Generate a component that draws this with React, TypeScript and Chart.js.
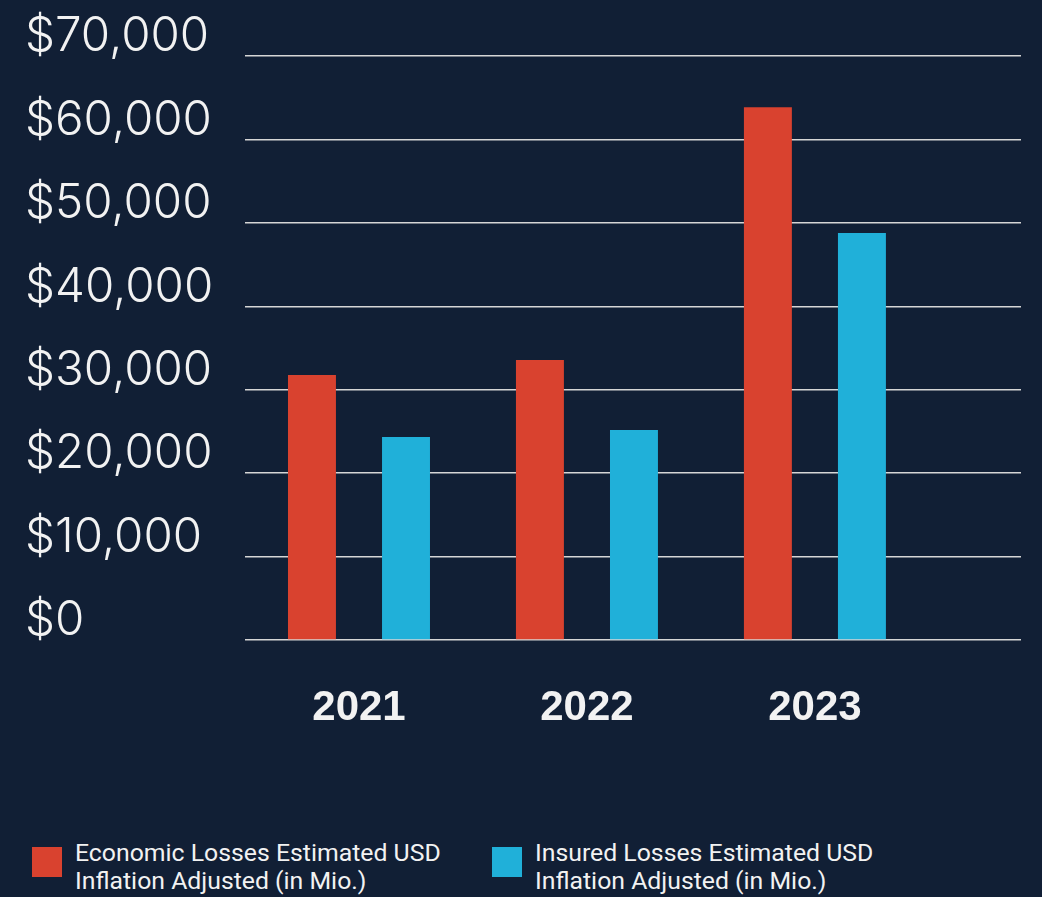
import React, { useEffect, useRef } from "react";
import { Chart, registerables } from "chart.js";

Chart.register(...registerables);

const years = ["2021", "2022", "2023"];
const economicLosses = [31760, 33560, 63850];
const insuredLosses = [24330, 25170, 48770];
const yTickValues = [0, 10000, 20000, 30000, 40000, 50000, 60000, 70000];
const economicLabel = ["Economic Losses Estimated USD", "Inflation Adjusted (in Mio.)"];
const insuredLabel = ["Insured Losses Estimated USD", "Inflation Adjusted (in Mio.)"];

const BG = "#111f35";
const RED = "#d9422f";
const BLUE = "#20b0d9";
const TEXT = "#f2f2f2";

export default function App() {
  const canvasRef = useRef<HTMLCanvasElement | null>(null);

  useEffect(() => {
    document.body.style.margin = "0";
    document.body.style.background = BG;
    const canvas = canvasRef.current;
    if (!canvas) return;
    const chart = new Chart(canvas, {
      type: "bar",
      data: {
        datasets: [
          {
            label: economicLabel.join(" "),
            data: years.map((_, i) => ({ x: i, y: economicLosses[i] })),
            backgroundColor: RED,
            categoryPercentage: 0.825,
            barPercentage: 0.51,
          },
          {
            label: insuredLabel.join(" "),
            data: years.map((_, i) => ({ x: i, y: insuredLosses[i] })),
            backgroundColor: BLUE,
            categoryPercentage: 0.825,
            barPercentage: 0.51,
          },
        ],
      },
      options: {
        animation: false,
        responsive: false,
        maintainAspectRatio: false,
        layout: { padding: { left: 25, top: 56, right: 21, bottom: 0 } },
        plugins: {
          legend: { display: false },
          tooltip: { enabled: false },
        },
        scales: {
          x: {
            type: "linear",
            offset: false,
            bounds: "data",
            min: -0.5,
            max: 2.904,
            grid: { display: false, offset: false },
            border: { display: false },
            afterBuildTicks: (s: any) => {
              s.ticks = years.map((_, i) => ({ value: i }));
            },
            afterFit: (s: any) => {
              s.height = 140;
            },
            ticks: {
              color: TEXT,
              padding: 35,
              autoSkip: false,
              maxRotation: 0,
              font: { family: "Liberation Sans", size: 42, weight: "bold" },
              callback: (v: any) => years[Number(v)] ?? "",
            },
          },
          y: {
            min: 0,
            max: 70000,
            afterBuildTicks: (s: any) => {
              s.ticks = yTickValues.map((v) => ({ value: v }));
            },
            afterFit: (s: any) => {
              s.width = 220;
            },
            grid: { color: "#d6d6d6", lineWidth: 1.5, drawTicks: false },
            border: { display: false },
            ticks: {
              crossAlign: "far",
              labelOffset: -19,
              padding: 0,
              color: TEXT,
              font: { family: "Inter", size: 47.5, weight: 300 },
              callback: (v: any) => "$" + Number(v).toLocaleString("en-US"),
            },
          },
        },
      },
    } as any);
    return () => chart.destroy();
  }, []);

  const legendText: React.CSSProperties = {
    position: "absolute",
    top: 839,
    fontFamily: "Roboto",
    fontWeight: 400,
    fontSize: 24.8,
    lineHeight: "28px",
    color: TEXT,
    whiteSpace: "nowrap",
  };
  const square = (left: number, color: string): React.CSSProperties => ({
    position: "absolute",
    left,
    top: 847,
    width: 30,
    height: 30,
    background: color,
  });

  return (
    <div
      style={{
        position: "relative",
        width: 1042,
        height: 897,
        background: BG,
        overflow: "hidden",
      }}
    >
      <canvas ref={canvasRef} width={1042} height={780} style={{ display: "block" }} />
      <div style={square(32, RED)} />
      <div style={{ ...legendText, left: 75 }}>
        {economicLabel[0]}
        <br />
        {economicLabel[1]}
      </div>
      <div style={square(492, BLUE)} />
      <div style={{ ...legendText, left: 535 }}>
        {insuredLabel[0]}
        <br />
        {insuredLabel[1]}
      </div>
    </div>
  );
}
